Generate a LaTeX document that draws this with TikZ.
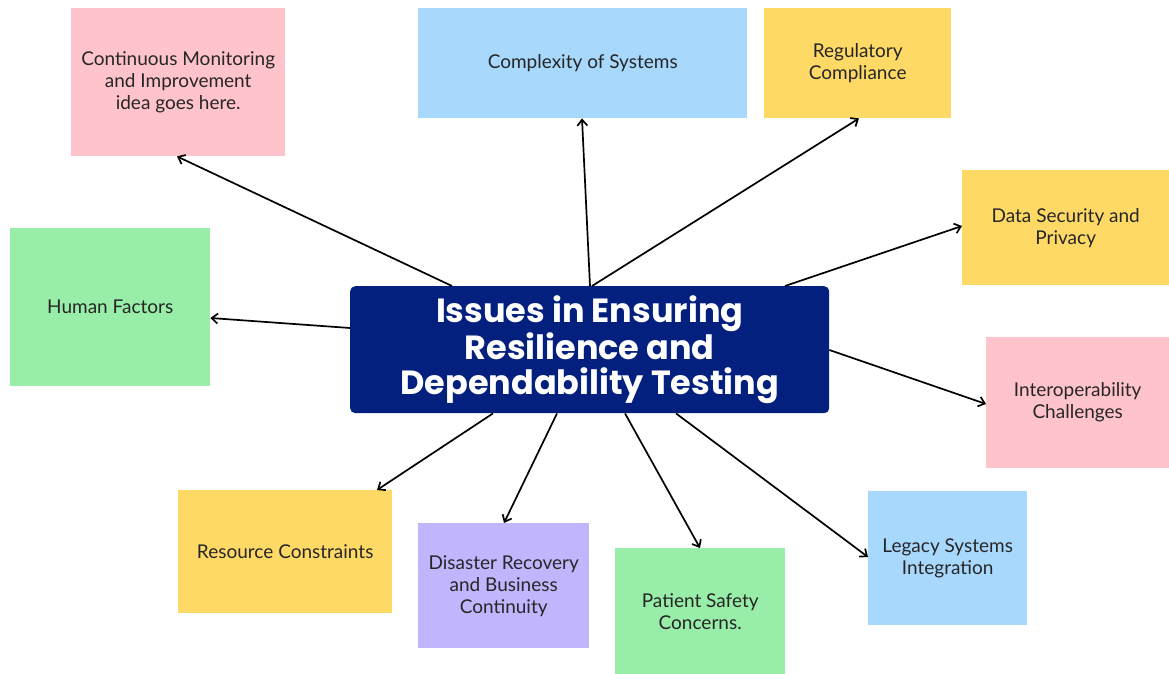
\documentclass[tikz,border=0pt]{standalone}
\usepackage{fontspec}
\setmainfont{Lato}
\newfontfamily\hubfont{Poppins}
\usetikzlibrary{arrows.meta}
\definecolor{notepink}{HTML}{FFC4CB}
\definecolor{noteblue}{HTML}{A8D9FD}
\definecolor{noteyellow}{HTML}{FFD966}
\definecolor{notegreen}{HTML}{98EDA8}
\definecolor{notepurple}{HTML}{C1B6FD}
\definecolor{hubnavy}{HTML}{03207E}
\tikzset{
    note/.style={
           rectangle,
           anchor=north west,
           inner sep=0pt,
           align=center,
           text=black!85,
           font=\fontsize{19}{22}\selectfont},
    notepk/.style={note, fill=notepink},
    notebl/.style={note, fill=noteblue},
    noteye/.style={note, fill=noteyellow},
    notegr/.style={note, fill=notegreen},
    notepu/.style={note, fill=notepurple},
    hub/.style={
           rectangle,
           rounded corners=5pt,
           anchor=north west,
           fill=hubnavy,
           text=white,
           inner sep=0pt,
           align=center,
           minimum width=479pt,
           minimum height=127pt,
           font=\hubfont\bfseries\fontsize{33.5}{35}\selectfont},
    pointer/.style={-{Straight Barb[length=6pt,width=10pt]}, black, line width=1.7pt}
    }
\begin{document}
\begin{tikzpicture}[x=1pt,y=-1pt]
      \useasboundingbox (0,0) rectangle (1169,674);
      \node[hub] (hub) at (350,286) {Issues in Ensuring\\Resilience and\\Dependability Testing};
      \node[notepk, minimum width=214pt, minimum height=148pt] (cm) at (71,8) {Continuous Monitoring\\and Improvement\\idea goes here.};
      \node[notebl, minimum width=329pt, minimum height=110pt] (cs) at (418,8) {Complexity of Systems};
      \node[noteye, minimum width=187pt, minimum height=110pt] (rc) at (764,8) {Regulatory\\Compliance};
      \node[noteye, minimum width=207pt, minimum height=115pt] (ds) at (962,170) {Data Security and\\Privacy};
      \node[notegr, minimum width=200pt, minimum height=158pt] (hf) at (10,228) {Human Factors};
      \node[notepk, minimum width=183pt, minimum height=131pt] (io) at (986,337) {Interoperability\\Challenges};
      \node[noteye, minimum width=214pt, minimum height=123pt] (rs) at (178,490) {Resource Constraints};
      \node[notepu, minimum width=171pt, minimum height=125pt] (dr) at (418,523) {Disaster Recovery\\and Business\\Continuity};
      \node[notegr, minimum width=170pt, minimum height=126pt] (ps) at (615,548) {Patient Safety\\Concerns.};
      \node[notebl, minimum width=159pt, minimum height=134pt] (ls) at (868,491) {Legacy Systems\\Integration};
      % arrows out of the hub
      \draw[pointer] ([xshift=102pt]hub.north west) -- ([xshift=106pt]cm.south west);
      \draw[pointer] ([xshift=240pt]hub.north west) -- ([xshift=164pt]cs.south west);
      \draw[pointer] ([xshift=242pt]hub.north west) -- ([xshift=95pt]rc.south west);
      \draw[pointer] ([xshift=435pt]hub.north west) -- ([yshift=-56pt]ds.north west);
      \draw[pointer] ([yshift=-42pt]hub.north west) -- ([yshift=-90pt]hf.north east);
      \draw[pointer] ([yshift=-64pt]hub.north east) -- ([yshift=-67pt]io.north west);
      \draw[pointer] ([xshift=143pt]hub.south west) -- ([xshift=199pt]rs.north west);
      \draw[pointer] ([xshift=207pt]hub.south west) -- ([xshift=86pt]dr.north west);
      \draw[pointer] ([xshift=275pt]hub.south west) -- ([xshift=85pt]ps.north west);
      \draw[pointer] ([xshift=326pt]hub.south west) -- ([yshift=-66pt]ls.north west);
\end{tikzpicture}
\end{document}
